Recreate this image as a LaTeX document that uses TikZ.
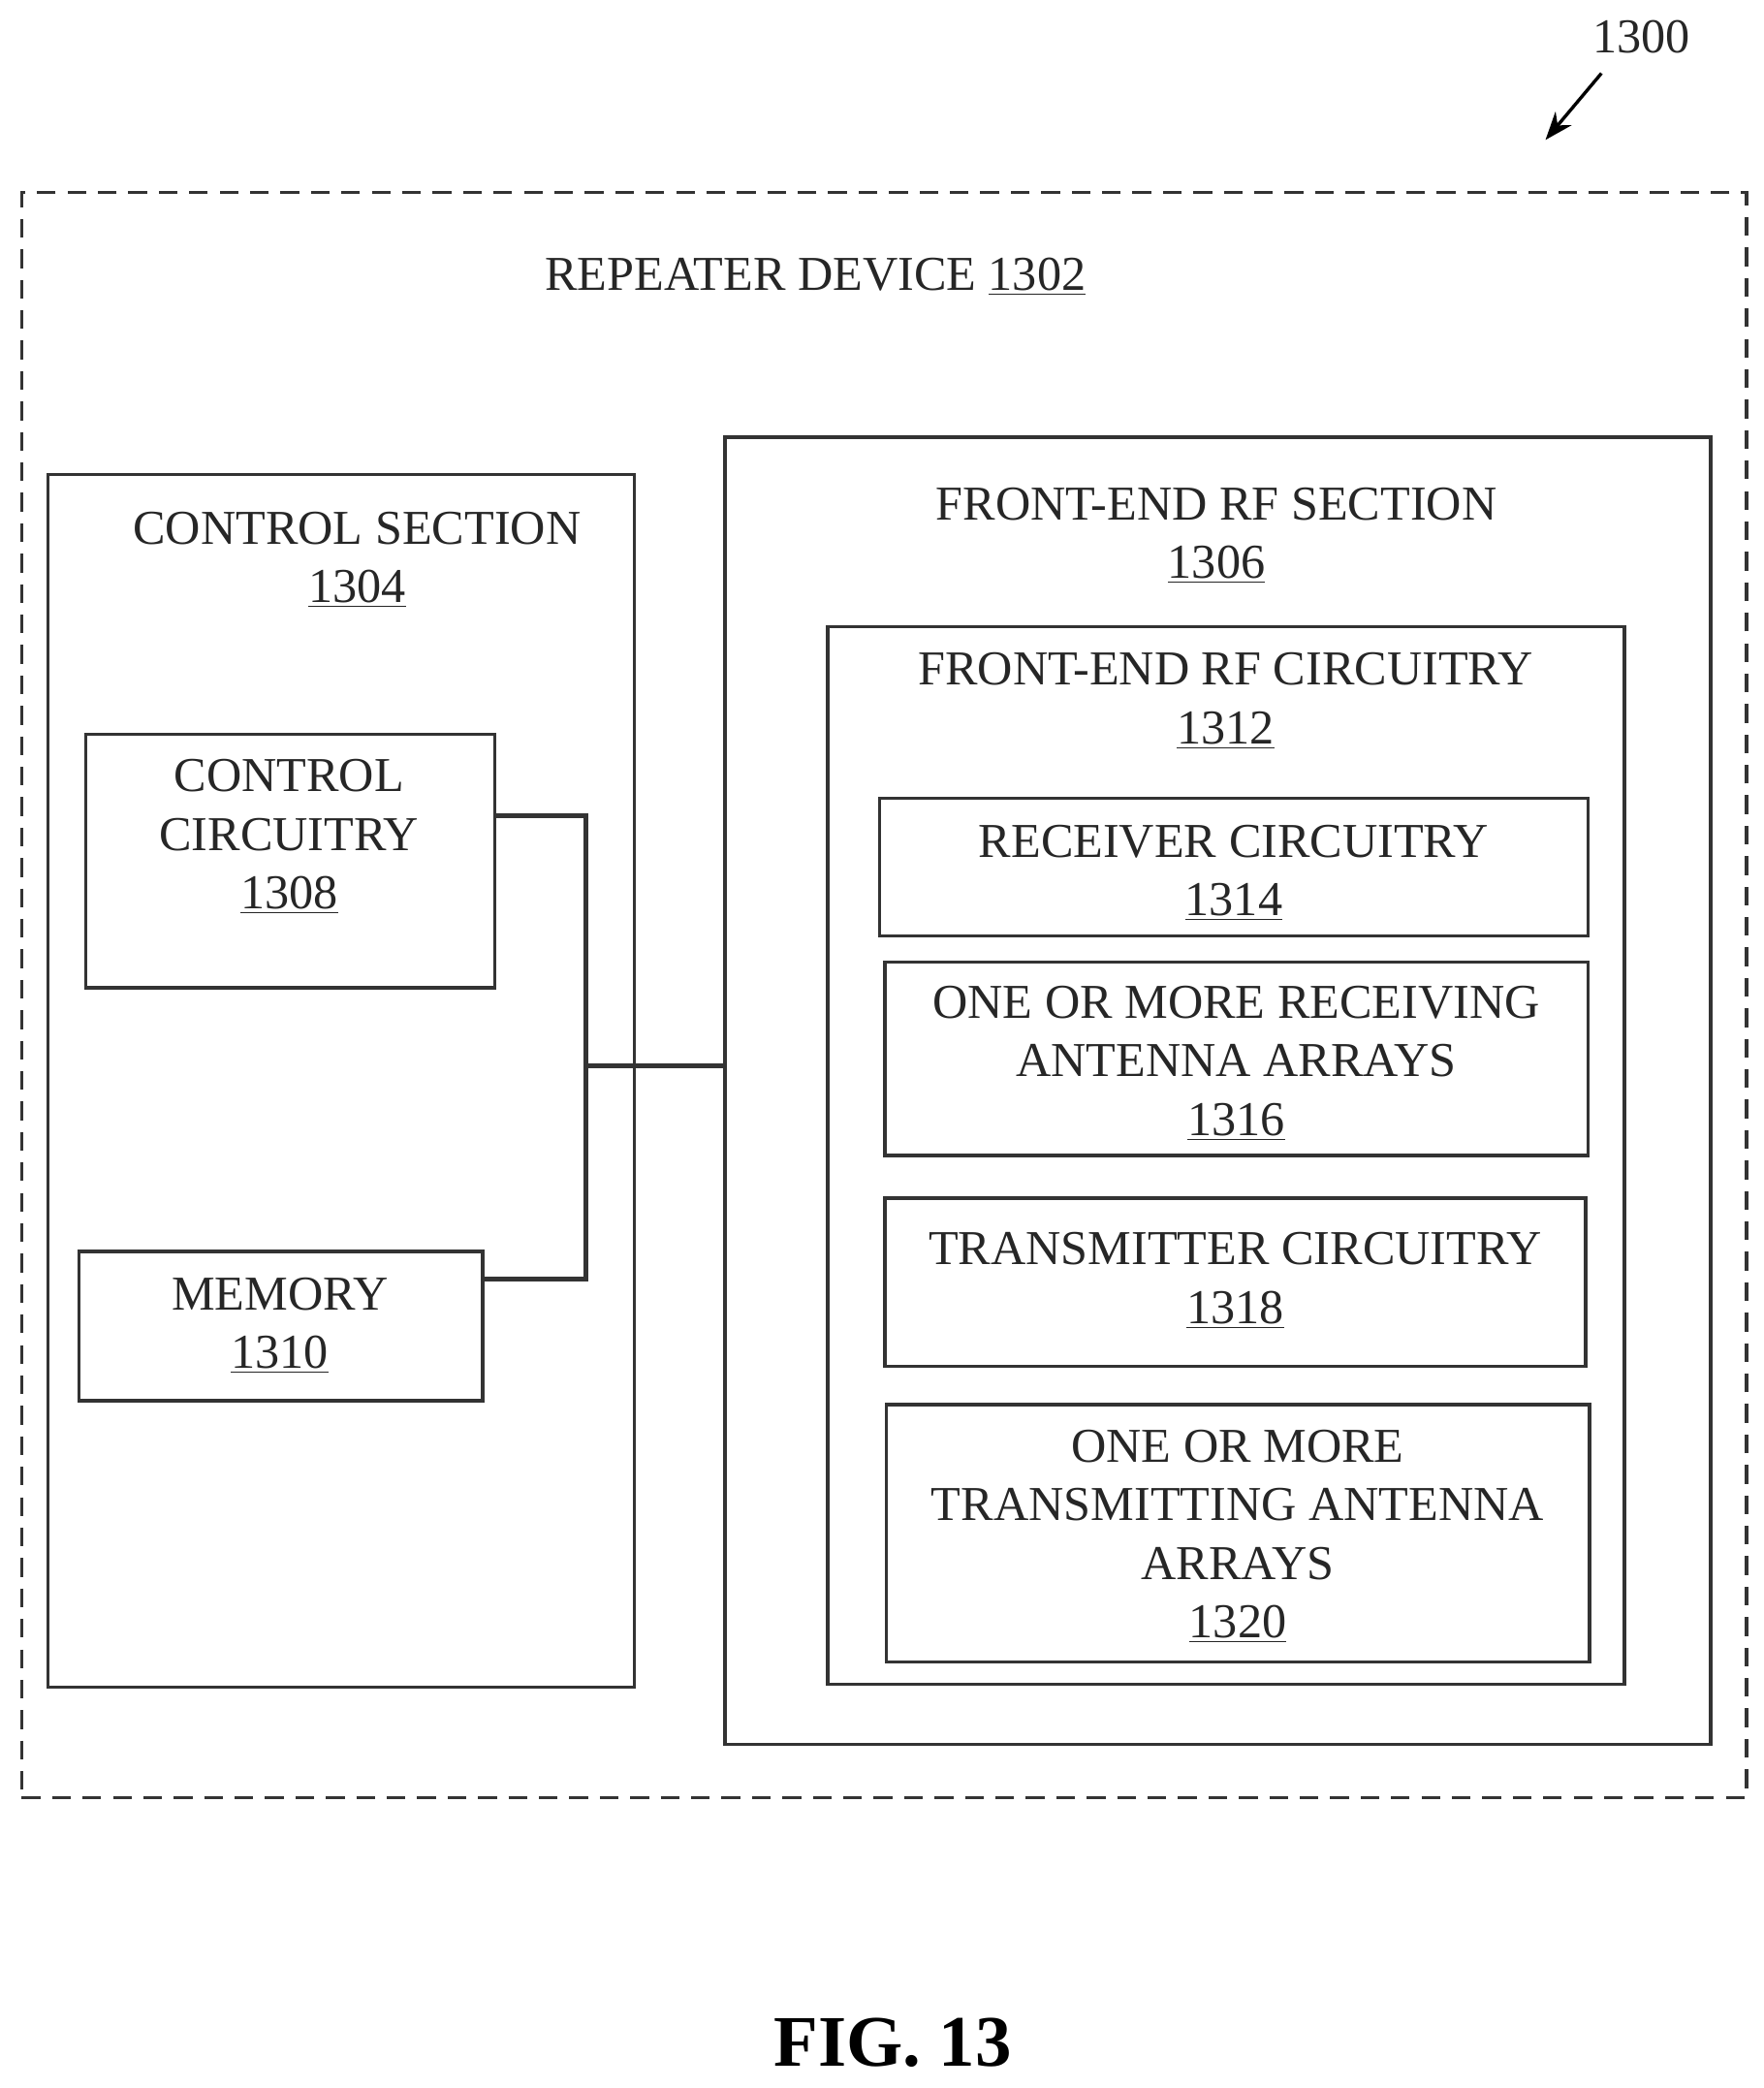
\documentclass[tikz,border=0pt]{standalone}
\usepackage{fontspec}
\setmainfont{Liberation Serif}
\usetikzlibrary{arrows.meta,calc}
\tikzset{
  box/.style={draw=black!80, line width=1.4pt, rectangle, anchor=north west, inner sep=0pt}, % solid blocks
  outer/.style={box, dashed, dash pattern=on 8pt off 5pt}, % device border
  lbl/.style={align=center, font=\fontsize{20.8}{25}\selectfont, text=black!85},
  wire/.style={draw=black!80, line width=2pt},
}
\begin{document}
\begin{tikzpicture}[x=0.02cm, y=-0.02cm]
  \useasboundingbox (0,0) rectangle (1324,1567);

  % boxes
  \node[outer, minimum width=25.9cm, minimum height=24.1cm] (dev) at (15,143) {};
  \node[box, minimum width=8.8cm, minimum height=18.2cm] (csec) at (35,355) {};
  \node[box, minimum width=6.14cm, minimum height=3.8cm] (ctrl) at (63,550) {};
  \node[box, minimum width=6.06cm, minimum height=2.24cm] (mem) at (58,938) {};
  \node[box, minimum width=14.8cm, minimum height=19.62cm] (rfsec) at (543,327) {};
  \node[box, minimum width=11.96cm, minimum height=15.88cm] (rfc) at (620,469) {};
  \node[box, minimum width=10.64cm, minimum height=2.06cm] (rx) at (659,598) {};
  \node[box, minimum width=10.56cm, minimum height=2.9cm] (rxant) at (663,721) {};
  \node[box, minimum width=10.52cm, minimum height=2.52cm] (tx) at (663,898) {};
  \node[box, minimum width=10.56cm, minimum height=3.86cm] (txant) at (664,1053) {};

  % labels
  \node[lbl] (devlbl) at (612,208) {REPEATER DEVICE \underline{1302}};
  \node[lbl] (cseclbl) at (268,420) {CONTROL SECTION\\\underline{1304}};
  \node[lbl] (ctrllbl) at (217,628) {CONTROL\\CIRCUITRY\\\underline{1308}};
  \node[lbl] (memlbl) at (210,995) {MEMORY\\\underline{1310}};
  \node[lbl] (rfseclbl) at (913,402) {FRONT-END RF SECTION\\\underline{1306}};
  \node[lbl] (rfclbl) at (920,526) {FRONT-END RF CIRCUITRY\\\underline{1312}};
  \node[lbl] (rxlbl) at (926,655) {RECEIVER CIRCUITRY\\\underline{1314}};
  \node[lbl] (rxantlbl) at (928,798) {ONE OR MORE RECEIVING\\ANTENNA ARRAYS\\\underline{1316}};
  \node[lbl] (txlbl) at (927,961) {TRANSMITTER CIRCUITRY\\\underline{1318}};
  \node[lbl] (txantlbl) at (929,1153) {ONE OR MORE\\TRANSMITTING ANTENNA\\ARRAYS\\\underline{1320}};

  % connections
  \coordinate (bustop) at (440,612);
  \coordinate (busbot) at (440,960);
  \coordinate (busmid) at (440,800);
  \draw[wire] (ctrl.east |- bustop) -- (bustop) -- (busbot) -- (mem.east |- busbot);
  \draw[wire] (busmid) -- (rfsec.west |- busmid);

  % reference numeral
  \node[lbl] (ref) at (1232,28) {1300};
  \coordinate (refend) at (1160,105);
  \draw[line width=1.4pt, -{Stealth[length=12pt,width=9pt]}] (1202,55) -- (refend);

  \node[font=\fontsize{31}{36}\selectfont\bfseries] (fig) at (670,1533) {FIG. 13};
\end{tikzpicture}
\end{document}
